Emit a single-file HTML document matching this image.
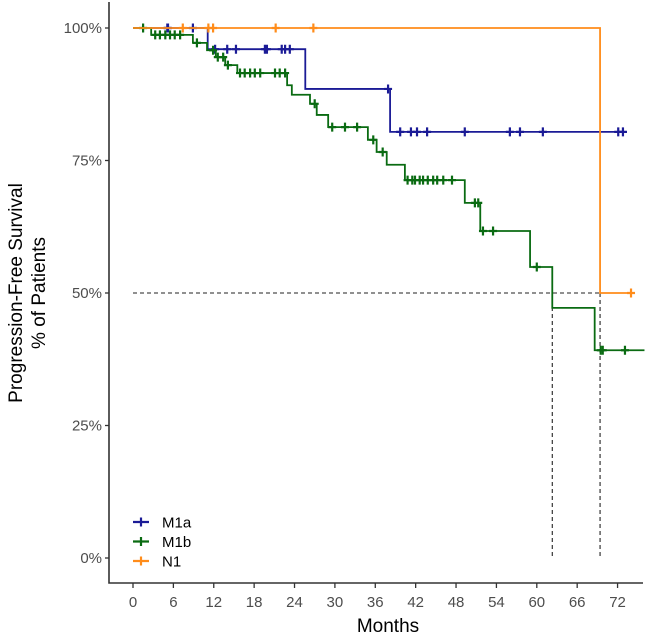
<!DOCTYPE html>
<html><head><meta charset="utf-8"><style>
body{margin:0;background:#fff;}
svg{display:block;font-family:"Liberation Sans",Arial,sans-serif;}
</style></head><body>
<svg id="chart" width="651" height="638" viewBox="0 0 651 638"></svg>
<script>
const xTicks=[0,6,12,18,24,30,36,42,48,54,60,66,72];
const yTicks=[0,25,50,75,100];
const yTickLabels=["0%","25%","50%","75%","100%"];
const seriesNames=["M1a","M1b","N1"];
const m1aTimes=[11.1,25.6,38.2];
const m1aSurv=[96.0,88.5,80.4];
const m1aEnd=73.4;
const m1aCens=[5.1,5.2,8.9,12.2,14.0,15.3,19.6,19.9,22.1,22.6,23.3,37.9,39.7,41.3,42.2,43.7,49.3,56.0,57.5,60.9,72.1,72.8];
const m1bTimes=[2.7,8.9,11.0,12.3,13.7,15.5,22.9,23.6,26.3,27.3,29.0,34.9,36.2,37.7,40.4,49.3,51.6,59.0,62.3,68.6];
const m1bSurv=[98.7,97.2,95.8,94.5,93.0,91.5,89.2,87.4,85.7,83.6,81.3,78.9,76.6,74.2,71.3,67.0,61.7,54.9,47.2,39.2];
const m1bEnd=76;
const m1bCens=[1.5,3.3,4.0,4.8,5.5,6.2,7.0,9.5,11.9,12.6,13.4,14.1,15.9,16.6,17.4,18.1,18.9,21.1,21.8,22.6,27.0,29.6,31.5,33.3,35.7,37.1,40.8,41.5,41.9,42.6,43.1,43.8,44.6,45.2,46.1,47.4,50.8,51.3,52.0,53.5,60.0,69.5,69.8,73.1];
const n1Times=[69.4];
const n1Surv=[50];
const n1End=74;
const n1Cens=[7.4,11.2,11.9,21.2,26.8,74];
const medianTimes=[62.3,69.4];

const NS="http://www.w3.org/2000/svg";
const svg=document.getElementById('chart');
const X=t=>133+t*6.73;
const Y=s=>558-s*5.3;
function el(tag,attrs,parent){const e=document.createElementNS(NS,tag);for(const k in attrs)e.setAttribute(k,attrs[k]);(parent||svg).appendChild(e);return e;}
function survAt(times,surv,t){let s=100;for(let i=0;i<times.length;i++){if(times[i]<=t)s=surv[i];}return s;}

const med=el('path',{d:`M${X(0)},${Y(50)}H${X(medianTimes[1])}`+medianTimes.map(m=>`M${X(m)},${Y(50)}V${Y(0)}`).join(''),stroke:'#222',fill:'none','stroke-width':1.1,'stroke-dasharray':'4,3'});



const series=[
 {name:'M1a',times:m1aTimes,surv:m1aSurv,end:m1aEnd,cens:m1aCens,color:'#1b1b96'},
 {name:'M1b',times:m1bTimes,surv:m1bSurv,end:m1bEnd,cens:m1bCens,color:'#0a6b12'},
 {name:'N1',times:n1Times,surv:n1Surv,end:n1End,cens:n1Cens,color:'#ff8c1a'}
];
series.forEach(s=>{
  const g=el('g',{});
  
  
  let d=`M${X(0)},${Y(100)}`;
  s.times.forEach((t,i)=>{d+=`H${X(t)}V${Y(s.surv[i])}`;});
  d+=`H${X(s.end)}`;
  const p=el('path',{d,stroke:s.color,fill:'none','stroke-width':1.8},g);
  
  
  s.cens.forEach(c=>{
    const cx=X(c),cy=Y(survAt(s.times,s.surv,c));
    const m=el('path',{d:`M${cx-4},${cy}H${cx+4}M${cx},${cy-4.5}V${cy+4.5}`,stroke:s.color,'stroke-width':2.2},g);
    
    
  });
});

const ax=el('path',{d:`M109,2V583H643`,stroke:'#333',fill:'none','stroke-width':1.6});


yTicks.forEach((v,i)=>{
  const tk=el('path',{d:`M105,${Y(v)}H109`,stroke:'#333','stroke-width':1.3});
  
  
  const tx=el('text',{x:102,y:Y(v)+5,'text-anchor':'end','font-size':15,fill:'#4d4d4d'});
  tx.textContent=yTickLabels[i];
  
  
});
xTicks.forEach(v=>{
  const tk=el('path',{d:`M${X(v)},583V588`,stroke:'#333','stroke-width':1.3});
  
  
  const tx=el('text',{x:X(v),y:607,'text-anchor':'middle','font-size':15,fill:'#4d4d4d'});
  tx.textContent=v;
  
  
});
const xt=el('text',{x:388,y:632,'text-anchor':'middle','font-size':19,fill:'#000'});
xt.textContent='Months';


const yt=el('text',{transform:'translate(0,293) rotate(-90)','text-anchor':'middle','font-size':19,fill:'#000'});


const t1=el('tspan',{x:0,y:22},yt);t1.textContent='Progression-Free Survival';
const t2=el('tspan',{x:0,y:45},yt);t2.textContent='% of Patients';

series.forEach((s,i)=>{
  const y=522+i*19.5;
  const g=el('g',{});
  
  
  el('path',{d:`M133,${y}H149M141,${y-4.5}V${y+4.5}`,stroke:s.color,'stroke-width':2.2},g);
  const tx=el('text',{x:162,y:y+5.5,'font-size':15,fill:'#000'},g);
  tx.textContent=seriesNames[i];
});
</script>
</body></html>
